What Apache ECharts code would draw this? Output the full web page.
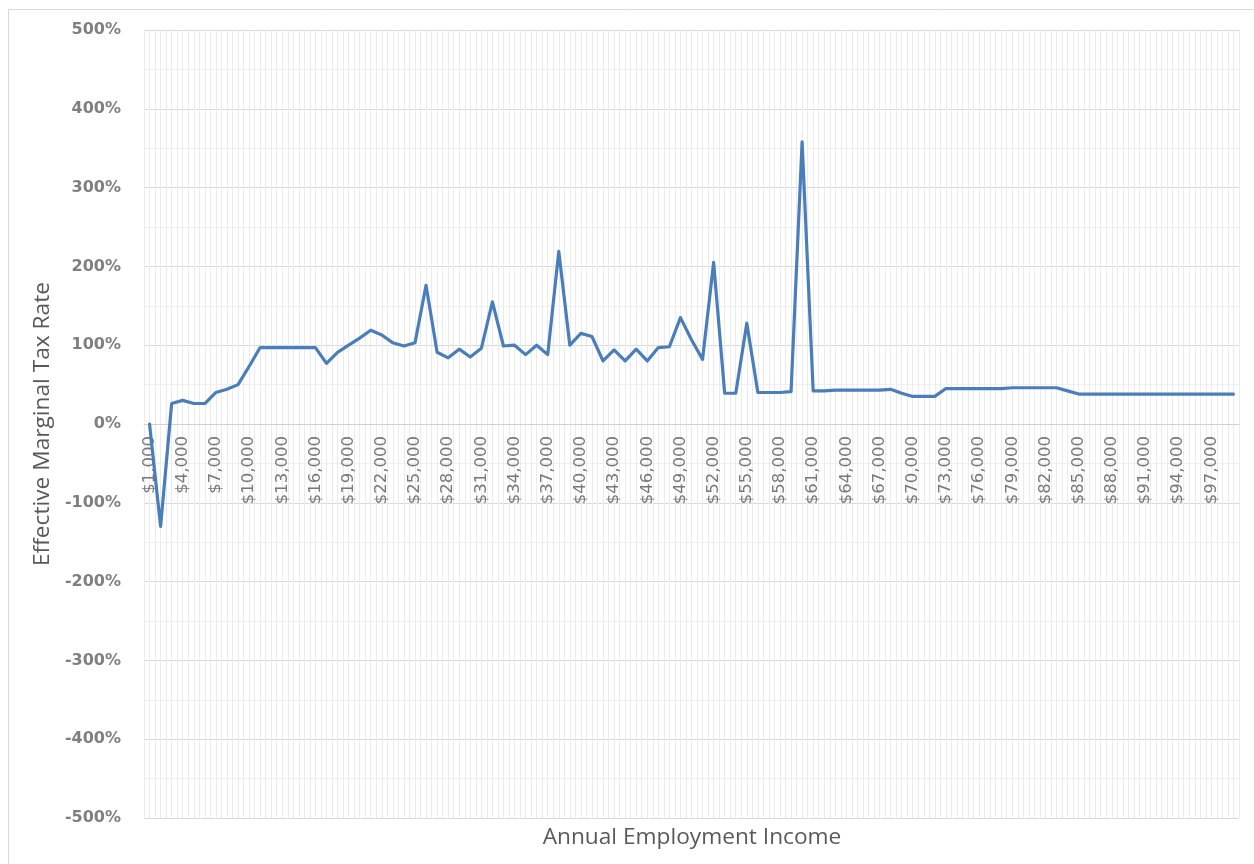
<!DOCTYPE html>
<html>
<head>
<meta charset="utf-8">
<script src="https://cdn.jsdelivr.net/npm/echarts@6/dist/echarts.min.js"></script>
<style>
  html, body { margin: 0; padding: 0; background: #fff; }
  #chart { width: 1254px; height: 864px; }
</style>
</head>
<body>
<div id="chart"></div>
<script>
  // annual employment income, one category per $1,000
  const incomes = [
    1000, 2000, 3000, 4000, 5000, 6000, 7000, 8000, 9000, 10000,
    11000, 12000, 13000, 14000, 15000, 16000, 17000, 18000, 19000, 20000,
    21000, 22000, 23000, 24000, 25000, 26000, 27000, 28000, 29000, 30000,
    31000, 32000, 33000, 34000, 35000, 36000, 37000, 38000, 39000, 40000,
    41000, 42000, 43000, 44000, 45000, 46000, 47000, 48000, 49000, 50000,
    51000, 52000, 53000, 54000, 55000, 56000, 57000, 58000, 59000, 60000,
    61000, 62000, 63000, 64000, 65000, 66000, 67000, 68000, 69000, 70000,
    71000, 72000, 73000, 74000, 75000, 76000, 77000, 78000, 79000, 80000,
    81000, 82000, 83000, 84000, 85000, 86000, 87000, 88000, 89000, 90000,
    91000, 92000, 93000, 94000, 95000, 96000, 97000, 98000, 99000
  ]

  // effective marginal tax rate, in percent
  const marginalRates = [
    0, -130, 26, 30, 26, 26, 40, 44, 50, 73,
    97, 97, 97, 97, 97, 97, 77, 91, 100, 109,
    119, 113, 103, 99, 103, 176, 91, 84, 95, 85,
    96, 155, 99, 100, 88, 100, 88, 219, 100, 115,
    111, 80, 94, 80, 95, 80, 97, 98, 135, 107,
    82, 205, 39, 39, 128, 40, 40, 40, 41, 358,
    42, 42, 43, 43, 43, 43, 43, 44, 39, 35,
    35, 35, 45, 45, 45, 45, 45, 45, 46, 46,
    46, 46, 46, 42, 38, 38, 38, 38, 38, 38,
    38, 38, 38, 38, 38, 38, 38, 38, 38
  ]

  const yMin = -500
  const yMax = 500
  const yStep = 100

  const fmtMoney = (v) => '$' + Number(v).toLocaleString('en-US')

  const chartW = 1254
  const chartH = 864
  const plotBox = { left: 144, right: 15, top: 30, bottom: 46, outerBoundsMode: 'none' }
  const plotH = chartH - plotBox.top - plotBox.bottom
  // Excel crosses the category axis at 0, so lift it from the bottom edge to the zero line
  const zeroLift = -plotH * (0 - yMin) / (yMax - yMin)

  const chart = echarts.init(document.getElementById('chart'))

  const option = {
    backgroundColor: '#ffffff',
    animation: false,
    graphic: [
      {
        type: 'rect',
        silent: true,
        shape: { x: 8.5, y: 9.5, width: 1280, height: 900 },
        style: { fill: 'none', stroke: '#d9d9d9', lineWidth: 1 }
      },
      {
        type: 'text',
        silent: true,
        x: 692,
        y: 838,
        style: {
          text: 'Annual Employment Income',
          fill: '#595959',
          font: '22.7px "Open Sans", sans-serif',
          align: 'center',
          verticalAlign: 'middle'
        }
      }
    ],
    // grid 0 holds the line, grid 1 only draws the dense vertical gridlines
    grid: [plotBox, Object.assign({}, plotBox)],
    xAxis: [
      {
        type: 'category',
        gridIndex: 0,
        data: incomes,
        position: 'bottom',
        offset: zeroLift,
        boundaryGap: true,
        axisLine: { onZero: false, lineStyle: { color: '#d0d0d0', width: 1 } },
        axisTick: { show: false },
        axisLabel: {
          interval: 2,
          rotate: 90,
          margin: 12,
          color: '#787878',
          fontSize: 16.5,
          fontFamily: '"DejaVu Sans", sans-serif',
          formatter: fmtMoney
        },
        splitLine: { show: false },
        z: 3
      },
      {
        type: 'value',
        gridIndex: 1,
        min: 0,
        max: incomes.length,
        interval: 0.5,
        axisLine: { show: false, onZero: false },
        axisTick: { show: false },
        axisLabel: { show: false },
        splitLine: { show: true, lineStyle: { color: '#ebebeb', width: 1 } },
        z: 0
      }
    ],
    yAxis: [
      {
        type: 'value',
        gridIndex: 0,
        min: yMin,
        max: yMax,
        interval: yStep,
        name: 'Effective Marginal Tax Rate',
        nameLocation: 'middle',
        nameGap: 84,
        nameTextStyle: {
          color: '#595959',
          fontSize: 22.7,
          fontFamily: '"Open Sans", sans-serif'
        },
        axisLine: { show: false },
        axisTick: { show: false },
        axisLabel: {
          margin: 23,
          color: '#7f7f7f',
          fontSize: 16,
          fontWeight: 'bold',
          fontFamily: '"DejaVu Sans", sans-serif',
          formatter: (v) => v + '%'
        },
        splitLine: { lineStyle: { color: '#d9d9d9', width: 1 } },
        minorTick: { show: false, splitNumber: 2 },
        minorSplitLine: { show: true, lineStyle: { color: '#f0f0f0', width: 1 } }
      },
      {
        type: 'value',
        gridIndex: 1,
        min: 0,
        max: 1,
        show: false,
        splitLine: { show: false }
      }
    ],
    series: [
      {
        name: 'Effective Marginal Tax Rate',
        type: 'line',
        xAxisIndex: 0,
        yAxisIndex: 0,
        data: marginalRates,
        symbol: 'none',
        smooth: false,
        lineStyle: { color: '#4a7ebb', width: 3.2, join: 'round', cap: 'round' },
        itemStyle: { color: '#4a7ebb' },
        z: 5
      }
    ]
  }

  chart.setOption(option)
</script>
</body>
</html>
